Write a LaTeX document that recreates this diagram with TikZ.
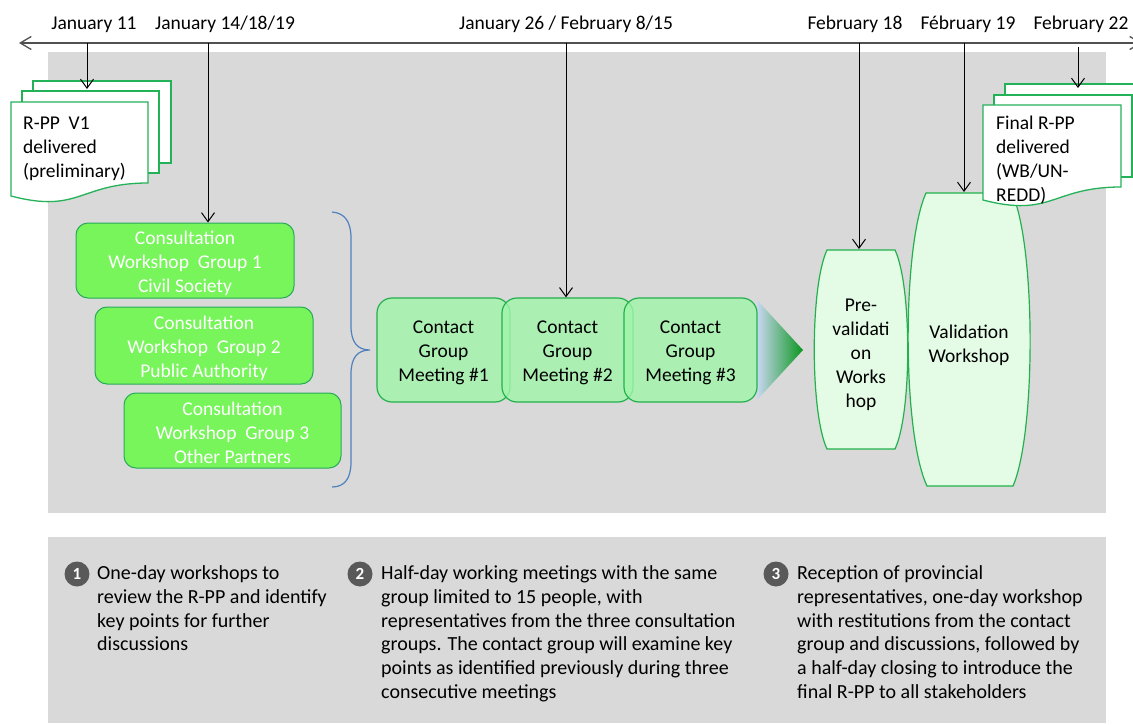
\documentclass[tikz,border=0pt]{standalone}
\usepackage{fontspec}
\setmainfont{Carlito}
\usetikzlibrary{arrows.meta}
\definecolor{panelgray}{RGB}{217,217,217}
\definecolor{docgreen}{RGB}{36,178,88}
\definecolor{consfill}{RGB}{119,245,91}
\definecolor{consline}{RGB}{40,170,90}
\definecolor{contfill}{RGB}{160,245,170}
\definecolor{contline}{RGB}{34,177,76}
\definecolor{valfill}{RGB}{228,252,230}
\definecolor{bracecol}{RGB}{79,129,189}
\definecolor{numgray}{RGB}{89,89,89}
\definecolor{tlgray}{RGB}{80,80,80}
\definecolor{shadeblue}{RGB}{200,215,240}
\definecolor{shadegreen}{RGB}{10,150,30}
\newcommand\fstrut{\rule{0pt}{16pt}}
\newcommand\bstrut{\rule{0pt}{19pt}}
\begin{document}
\begin{tikzpicture}[x=1pt,y=-1pt,
  font=\fontsize{19.5}{24}\selectfont,
  datelbl/.style={anchor=base, inner sep=0},
  vline/.style={draw=black, line width=1pt, -{Straight Barb[length=9pt,width=13pt]}},
  docshape/.style={draw=docgreen, line width=1.3pt, fill=white},
  doctext/.style={anchor=north west, align=left, inner sep=0},
  consult/.style={draw=consline, line width=1pt, fill=consfill, rounded corners=12pt,
    text=white, align=center, inner sep=0},
  contactbox/.style={draw=contline, line width=1.2pt, fill=contfill, fill opacity=0.8,
    text opacity=1, rounded corners=15pt, align=center, inner sep=0,
    minimum height=104pt},
  barrel/.style={draw=contline, line width=1.2pt, fill=valfill},
  note/.style={anchor=north west, align=left, inner sep=0, font=\fontsize{20}{23.9}\selectfont},
  numdot/.style={circle, fill=numgray, text=white, inner sep=0, minimum size=25pt,
    font=\fontsize{17}{17}\selectfont\bfseries}
]
\useasboundingbox (0,0) rectangle (1133,725);
% panels
\fill[panelgray] (48,52) rectangle (1106,513);
\fill[panelgray] (48,537) rectangle (1106,723);

% timeline
\coordinate (tlL) at (19,43);
\coordinate (tlR) at (1142,43);
\draw[tlgray, line width=1.3pt,
  {Straight Barb[length=11pt,width=13pt]}-{Straight Barb[length=11pt,width=13pt]}] (tlL) -- (tlR);

% dates
\node[datelbl] (d1) at (94,30) {January 11};
\node[datelbl] (d2) at (225,30) {January 14/18/19};
\node[datelbl] (d3) at (566,30) {January 26 / February 8/15};
\node[datelbl] (d4) at (855,30) {February 18};
\node[datelbl] (d5) at (968,30) {Fébruary 19};
\node[datelbl] (d6) at (1081,30) {February 22};

% left document stack
\draw[docshape] (33,81) rectangle (171,163);
\draw[docshape] (22,91) rectangle (159,173);
\draw[docshape] (11,102) -- (148,102) -- (148,183)
  .. controls (79.5,183) and (79.5,214) .. (11,196) -- cycle;
\node[doctext] (doc1) at (23,113) {\fstrut R-PP\ \ V1\\delivered\\(preliminary)};
\coordinate (doc1top) at (87,89);

% consultation boxes
\node[consult, minimum width=218pt, minimum height=75pt] (c1) at (185,260.5)
  {\bstrut Consultation\\Workshop\ \ Group 1\\Civil Society};
\node[consult, minimum width=218pt, minimum height=77pt] (c2) at (204,345.5)
  {\bstrut Consultation\\Workshop\ \ Group 2\\Public Authority};
\node[consult, minimum width=217pt, minimum height=75pt] (c3) at (232.5,430.5)
  {\bstrut Consultation\\Workshop\ \ Group 3\\Other Partners};

% brace
\draw[bracecol, line width=1.2pt] (332,212) .. controls (345,213) and (351,222) .. (351,238)
  -- (351,326) .. controls (351,343) and (358,350) .. (370,350)
  .. controls (358,350) and (351,357) .. (351,374)
  -- (351,462) .. controls (351,478) and (345,487) .. (332,487);

% gradient triangle
\shade[left color=shadeblue, middle color=shadeblue, right color=shadegreen]
  (757,300) -- (803,350) -- (757,400) -- cycle;

% contact group meetings
\node[contactbox, minimum width=133pt] (m1) at (443.5,350) {\bstrut Contact\\Group\\Meeting \#1};
\node[contactbox, minimum width=131pt] (m2) at (567.5,350) {\bstrut Contact\\Group\\Meeting \#2};
\node[contactbox, minimum width=133pt] (m3) at (690.5,350) {\bstrut Contact\\Group\\Meeting \#3};

% pre-validation
\draw[barrel] (827,250) -- (895,250) .. controls (912,286) and (912,413) .. (895,449)
  -- (827,449) .. controls (810,413) and (810,286) .. (827,250) -- cycle;
\node[align=center, inner sep=0] (pv) at (861,352) {\bstrut Pre-\\validati\\on\\Works\\hop};
\coordinate (pvtop) at (859,249);

% validation
\draw[barrel] (926,193) -- (1012,193) .. controls (1036,246) and (1036,433) .. (1013,486)
  -- (927,486) .. controls (902,433) and (902,246) .. (926,193) -- cycle;
\node[align=center, inner sep=0] (vw) at (969,343) {\bstrut Validation\\Workshop};
\coordinate (vwtop) at (964,192);

% right document stack
\draw[docshape] (1005,84) rectangle (1143,166);
\draw[docshape] (994,95) rectangle (1132,177);
\draw[docshape] (983,105) -- (1121,105) -- (1121,187)
  .. controls (1052,187) and (1052,218) .. (983,200) -- cycle;
\node[doctext] (doc2) at (996,113) {\fstrut Final R-PP\\delivered\\(WB/UN-\\REDD)};
\coordinate (doc2top) at (1078,88);

% timeline ticks
\coordinate (t1) at (87,43);
\coordinate (t2) at (208,43);
\coordinate (t3) at (566,43);
\coordinate (t4) at (859,43);
\coordinate (t5) at (964,43);
\coordinate (t6) at (1078,47);
\draw[vline] (t1) -- (doc1top);
\draw[vline] (t2) -- (c1.north -| t2);
\draw[vline] (t3) -- (m2.north -| t3);
\draw[vline] (t4) -- (pvtop);
\draw[vline] (t5) -- (vwtop);
\draw[vline] (t6) -- (doc2top);

% notes
\node[numdot] (n1) at (77,574) {1};
\node[numdot] (n2) at (360,574) {2};
\node[numdot] (n3) at (776,574) {3};
\node[note] (txt1) at (97,563) {\fstrut One-day workshops to\\review the R-PP and identify\\key points for further\\discussions};
\node[note] (txt2) at (381,563) {\fstrut Half-day working meetings with the same\\group limited to 15 people, with\\representatives from the three consultation\\groups. The contact group will examine key\\points as identified previously during three\\consecutive meetings};
\node[note] (txt3) at (797,563) {\fstrut Reception of provincial\\representatives, one-day workshop\\with restitutions from the contact\\group and discussions, followed by\\a half-day closing to introduce the\\final R-PP to all stakeholders};
\end{tikzpicture}
\end{document}
